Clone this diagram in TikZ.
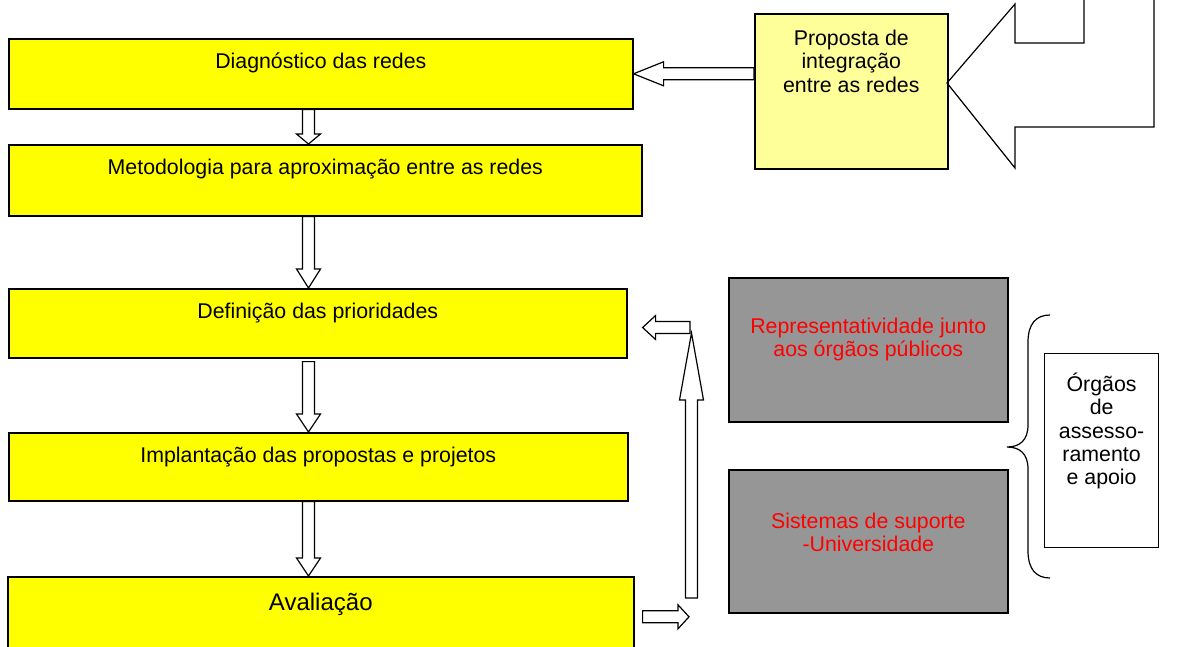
\documentclass[tikz,border=0pt]{standalone}
\usepackage{fontspec}
\setmainfont{Liberation Sans}
\usetikzlibrary{calc}

\definecolor{boxyellow}{RGB}{255,255,0}
\definecolor{paleyellow}{RGB}{255,255,153}
\definecolor{boxgray}{RGB}{150,150,150}

\tikzset{
  ybox/.style={draw, line width=1.2pt, fill=boxyellow, anchor=north west, inner sep=0pt},
  gbox/.style={draw, line width=1.2pt, fill=boxgray, anchor=north west, inner sep=0pt},
  wbox/.style={draw, line width=0.9pt, fill=white, anchor=north west, inner sep=0pt},
  txt/.style={font=\fontsize{16}{17.6}\selectfont, align=center, inner sep=0pt},
  redtxt/.style={txt, text=red},
  blockarrow/.style={draw, fill=white, line width=0.9pt, line join=miter},
}

% hollow block arrows: start, tip, head length (signed)
\newcommand{\vblock}[3]{\draw[blockarrow] ($(#1)+(-6,0)$) -- ($(#2)+(-6,#3)$) -- ++(-6,0) -- (#2) -- ($(#2)+(12,#3)$) -- ++(-6,0) -- ($(#1)+(6,0)$) -- cycle;}
\newcommand{\hblock}[3]{\draw[blockarrow] ($(#1)+(0,-6)$) -- ($(#2)+(#3,-6)$) -- ++(0,-6) -- (#2) -- ($(#2)+(#3,12)$) -- ++(0,-6) -- ($(#1)+(0,6)$) -- cycle;}

\begin{document}
\begin{tikzpicture}[x=0.75pt,y=-0.75pt]
\useasboundingbox (0,0) rectangle (1180,646);

% main column
\node[ybox, minimum width=468pt, minimum height=52.5pt] (diag) at (8,38) {};
\node[ybox, minimum width=474.75pt, minimum height=53.25pt] (metod) at (8,144) {};
\node[ybox, minimum width=463.5pt, minimum height=51.75pt] (defin) at (8,288) {};
\node[ybox, minimum width=464.25pt, minimum height=51pt] (impl) at (8,432) {};
\node[ybox, minimum width=469.5pt, minimum height=60pt] (aval) at (7,576) {};

\node[txt] (diagt) at ($(diag.north)+(0,24.5)$) {Diagnóstico das redes};
\node[txt] (metodt) at ($(metod.north)+(0,25.5)$) {Metodologia para aproximação entre as redes};
\node[txt] (defint) at ($(defin.north)+(0,25.5)$) {Definição das prioridades};
\node[txt] (implt) at ($(impl.north)+(0,25.5)$) {Implantação das propostas e projetos};
\node[txt, font=\fontsize{18}{20}\selectfont] (avalt) at ($(aval.north)+(0,28)$) {Avaliação};

% right side
\node[draw, line width=1.2pt, fill=paleyellow, anchor=north west, inner sep=0pt,
      minimum width=144.75pt, minimum height=116.25pt] (prop) at (754,13) {};
\node[txt] (propt) at ($(prop.north)+(0,48)$) {Proposta de\\integração\\entre as redes};

\node[gbox, minimum width=209.25pt, minimum height=108pt] (repr) at (728,277) {};
\node[redtxt] (reprt) at ($(repr.north)+(0,62.5)$) {Representatividade junto\\aos órgãos públicos};
\node[gbox, minimum width=209.25pt, minimum height=107.25pt] (sist) at (728,469) {};
\node[redtxt] (sistt) at ($(sist.north)+(0,63.5)$) {Sistemas de suporte\\-Universidade};

\node[wbox, minimum width=85.5pt, minimum height=145.5pt] (orgs) at (1044,353) {};
\node[txt] (orgst) at ($(orgs.north)+(0,78)$) {Órgãos\\de\\assesso-\\ramento\\e apoio};

% arrows down the column
\coordinate (ax) at (308.5,0);
\vblock{ax |- diag.south}{ax |- metod.north}{-10}
\vblock{ax |- metod.south}{ax |- defin.north}{-19}
\vblock{$(ax |- defin.south)+(0,3)$}{ax |- impl.north}{-18}
\vblock{ax |- impl.south}{ax |- aval.north}{-18}

% proposal into diagnosis
\hblock{prop.west |- diag.east}{diag.east}{30}

% feedback from evaluation
\coordinate (retb) at (691.5,598);
\coordinate (rett) at (691.5,333);
\coordinate (lft) at (690,327.5);
\coordinate (avr) at ($(aval.east)+(8,0)$);
\coordinate (avt) at ($(retb |- aval.east)+(-2.5,0)$);
\hblock{avr}{avt}{-11}
\vblock{retb}{rett}{67}
\coordinate (deft) at ($(defin.east |- lft)+(15,0)$);
\hblock{lft}{deft}{13}

% big bent arrow into the proposal
\draw[line width=0.9pt, line join=miter] (1084,-3) -- (1084,43) -- (1015,43) -- (1015,4)
  -- (947,83) -- (1015,168) -- (1015,127) -- (1154,127) -- (1154,-3);

% brace
\draw[line width=0.9pt] (1050,315) .. controls (1036,315) and (1028,324) .. (1028,342)
  -- (1028,425) .. controls (1028,440) and (1020,447) .. (1007,447)
  .. controls (1020,447) and (1028,454) .. (1028,469)
  -- (1028,551) .. controls (1028,569) and (1036,578) .. (1050,578);

\end{tikzpicture}
\end{document}
